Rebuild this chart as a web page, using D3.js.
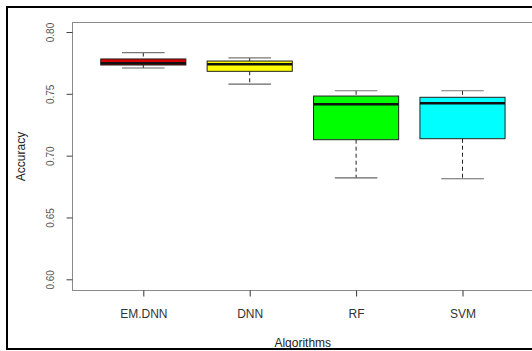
<!DOCTYPE html>
<html>
<head>
<meta charset="utf-8">
<script src="https://cdn.jsdelivr.net/npm/d3@7"></script>
<style>
  body { margin: 0; background: #fff; }
  svg { display: block; }
  text { font-family: "Liberation Sans", Arial, sans-serif; }
</style>
</head>
<body>
<svg id="chart" width="532" height="351"></svg>
<script>
// ---- data ----
const categories = ["EM.DNN", "DNN", "RF", "SVM"];
const mins    = [0.7709, 0.7578, 0.6821, 0.6813];
const q1s     = [0.7733, 0.7682, 0.7129, 0.7137];
const medians = [0.7747, 0.7739, 0.7415, 0.7423];
const q3s     = [0.7782, 0.7765, 0.7482, 0.7472];
const maxs    = [0.7834, 0.7790, 0.7525, 0.7525];
const fills   = ["#d80000", "#ffff00", "#00ff00", "#00ffff"];
const yTicks  = [0.60, 0.65, 0.70, 0.75, 0.80];
const yTickLabels = ["0.60", "0.65", "0.70", "0.75", "0.80"];

const svg = d3.select("#chart");

// plot region
const plotLeft = 72.5, plotRight = 533, plotTop = 22.5, plotBottom = 290.5;

const y = d3.scaleLinear().domain([0.60, 0.80]).range([279.3, 32]);
const x = d3.scalePoint().domain(categories).range([143.3, 462.5]);
const step = x.step();
const boxW = step * 0.8;
const capW = boxW * 0.5;

// outer frame
svg.append("rect")
  .attr("x", 7).attr("y", 7).attr("width", 540).attr("height", 342)
  .attr("fill", "none").attr("stroke", "#000").attr("stroke-width", 2);

// plot box
svg.append("rect")
  .attr("x", plotLeft).attr("y", plotTop)
  .attr("width", plotRight - plotLeft).attr("height", plotBottom - plotTop)
  .attr("fill", "none").attr("stroke", "#8a8a8a").attr("stroke-width", 1);

// y axis
const yAxis = d3.axisLeft(y).tickValues(yTicks)
  .tickFormat((d, i) => yTickLabels[i]).tickSize(6).tickPadding(0);
const gy = svg.append("g").attr("transform", `translate(${plotLeft},0)`).call(yAxis);
gy.select(".domain").remove();
gy.selectAll(".tick line").attr("stroke", "#444");
gy.selectAll(".tick text")
  .attr("transform", "rotate(-90)")
  .attr("x", 0).attr("y", -18.5)
  .attr("text-anchor", "middle")
  .attr("dy", 0)
  .attr("fill", "#555")
  .style("font-size", "10px");

// x axis
const xAxis = d3.axisBottom(x).tickSize(6).tickPadding(0);
const gx = svg.append("g").attr("transform", `translate(0,${plotBottom})`).call(xAxis);
gx.select(".domain").remove();
gx.selectAll(".tick line").attr("stroke", "#333");
gx.selectAll(".tick text")
  .attr("y", 27.5).attr("dy", 0)
  .attr("fill", "#333")
  .style("font-size", "12px");

// axis titles
svg.append("text")
  .attr("x", (plotLeft + plotRight) / 2).attr("y", 347)
  .attr("text-anchor", "middle").attr("fill", "#222")
  .style("font-size", "12px").text("Algorithms");
svg.append("text")
  .attr("transform", `translate(25,${(plotTop + plotBottom) / 2}) rotate(-90)`)
  .attr("text-anchor", "middle").attr("fill", "#222")
  .style("font-size", "12px").text("Accuracy");

// boxes
const data = categories.map((c, i) => ({
  c, min: mins[i], q1: q1s[i], med: medians[i], q3: q3s[i], max: maxs[i], fill: fills[i]
}));

const g = svg.append("g");
const b = g.selectAll("g.box").data(data).join("g").attr("class", "box");

// whiskers (dashed)
b.append("line")
  .attr("x1", d => x(d.c)).attr("x2", d => x(d.c))
  .attr("y1", d => y(d.max)).attr("y2", d => y(d.q3))
  .attr("stroke", "#222").attr("stroke-width", 1).attr("stroke-dasharray", "4,3");
b.append("line")
  .attr("x1", d => x(d.c)).attr("x2", d => x(d.c))
  .attr("y1", d => y(d.q1)).attr("y2", d => y(d.min))
  .attr("stroke", "#222").attr("stroke-width", 1).attr("stroke-dasharray", "4,3");
// caps
b.append("line")
  .attr("x1", d => x(d.c) - capW / 2).attr("x2", d => x(d.c) + capW / 2)
  .attr("y1", d => y(d.max)).attr("y2", d => y(d.max))
  .attr("stroke", "#777").attr("stroke-width", 1.2);
b.append("line")
  .attr("x1", d => x(d.c) - capW / 2).attr("x2", d => x(d.c) + capW / 2)
  .attr("y1", d => y(d.min)).attr("y2", d => y(d.min))
  .attr("stroke", "#666").attr("stroke-width", 1.2);
// box
b.append("rect")
  .attr("x", d => x(d.c) - boxW / 2).attr("width", boxW)
  .attr("y", d => y(d.q3)).attr("height", d => y(d.q1) - y(d.q3))
  .attr("fill", d => d.fill).attr("stroke", "#222").attr("stroke-width", 1);
// median
b.append("line")
  .attr("x1", d => x(d.c) - boxW / 2).attr("x2", d => x(d.c) + boxW / 2)
  .attr("y1", d => y(d.med)).attr("y2", d => y(d.med))
  .attr("stroke", "#111").attr("stroke-width", 2.5);
</script>
</body>
</html>
